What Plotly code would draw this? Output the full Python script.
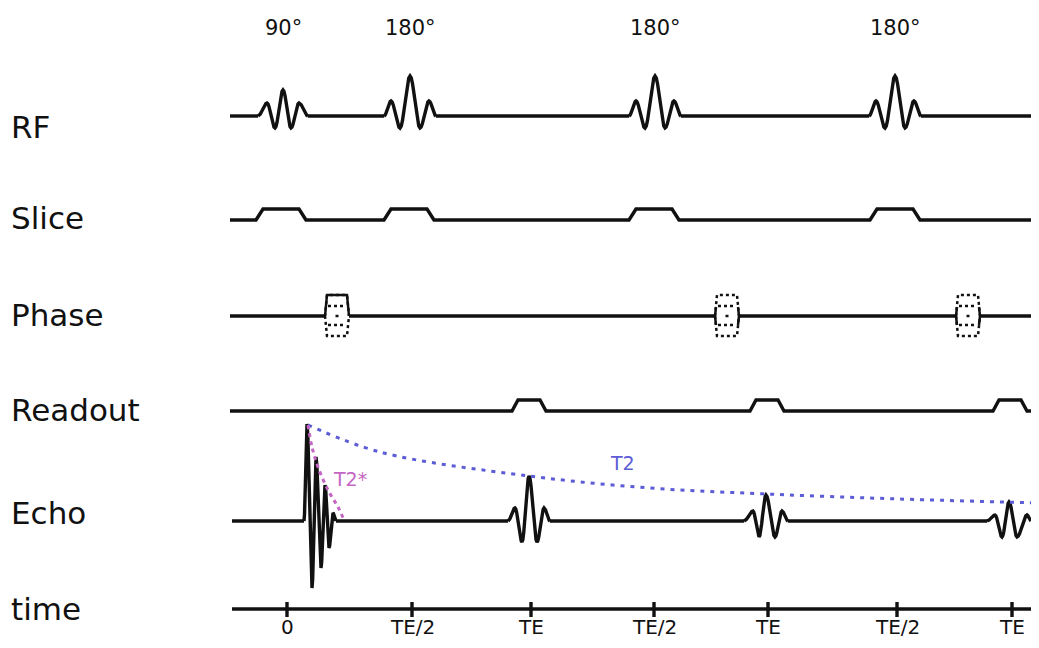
import math
import plotly.graph_objects as go

# The page body has an 8px margin; the figure is sized so the page is exactly 1039x648
PAGE_W, PAGE_H, BODY = 1039, 648, 8
W, H = PAGE_W - 2 * BODY, PAGE_H - 2 * BODY

# ---------------- data (diagram units: time on x, level on y, y grows downward) -------------
lane_names = ["RF", "Slice", "Phase", "Readout", "Echo", "time"]
lane_base = [116, 220, 316, 411, 521, 609]
lane_label_y = [127, 218, 315, 410, 513, 609]
lane_start = [230, 230, 230, 230, 232, 232]
lane_end = 1039

# RF pulses
rf_center = [283, 410, 655, 895]
rf_flip = ["90°", "180°", "180°", "180°"]
rf_half = [25, 26, 26, 26]
rf_lobe_off = [[-16, -8, 0, 8, 16], [-19, -10, 0, 10, 19], [-19, -10, 0, 10, 19], [-19, -10, 0, 10, 19]]
rf_lobe_amp = [[13, -12, 26, -12, 13], [15, -12, 40, -12, 15], [15, -12, 40, -12, 15], [15, -12, 40, -12, 15]]

# slice-select gradient
slice_center = [281, 409, 654, 895]
slice_flat_half = 18
slice_ramp = 7
slice_amp = 11

# phase-encode blips
phase_center = [337, 727, 968]
phase_half = 12
phase_top_half = 10
phase_amp = 21
phase_levels = [10, -9, -20]

# readout gradient
ro_center = [529, 767, 1010]
ro_flat_half = 11
ro_ramp = 6
ro_amp = 11

# echoes
echo_center = [529, 766, 1009]
echo_half = [21, 22, 22]
echo_lobe_off = [[-14, -7, 0, 8, 15], [-13, -7, 0, 9, 16], [-14, -7, 0, 8, 18]]
echo_lobe_amp = [[13, -21, 45, -21, 13], [10, -16, 26, -16, 10], [6, -16, 19, -16, 6]]

# FID after 90
fid_x = [304, 307, 312, 316, 321, 325, 329, 333, 336]
fid_amp = [0, 97, -67, 64, -47, 36, -27, 8, 0]

# decay envelopes
t2_x = [308, 380, 529, 650, 767, 900, 1039]
t2_y = [425, 452, 476, 488, 494, 499, 503]
t2s_x = [308, 312, 318, 328, 338, 344]
t2s_y = [425, 447, 467, 490, 507, 520]

# time axis
tick_pos = [287, 412, 531, 654, 768, 897, 1012]
tick_labels = ["0", "TE/2", "TE", "TE/2", "TE", "TE/2", "TE"]

BLACK = "#111111"
BLUE = "#5c5cd6"
MAGENTA = "#c466c4"
LW = 3.4
FONT = "DejaVu Sans"


def baseline_segments(base, start, end, gaps):
    xs, ys = [], []
    cur = start
    for a, b in sorted(gaps):
        xs += [cur, a, None]
        ys += [base, base, None]
        cur = b
    xs += [cur, end]
    ys += [base, base]
    return xs, ys


def smooth_through(keys, base, steps=8):
    """Draw a smooth wave through key extremes (half-cosine between neighbours)."""
    xs, ys = [keys[0][0]], [base - keys[0][1]]
    for (x0, a0), (x1, a1) in zip(keys[:-1], keys[1:]):
        for k in range(1, steps + 1):
            t = k / steps
            w = (1 - math.cos(math.pi * t)) / 2
            xs.append(x0 + (x1 - x0) * t)
            ys.append(base - (a0 + (a1 - a0) * w))
    return xs, ys


def lobe_pulse(center, half, offs, amps, base):
    keys = [(center - half, 0)] + [(center + o, a) for o, a in zip(offs, amps)] + [(center + half, 0)]
    return smooth_through(keys, base)


def trapezoid_train(base, start, end, centers, flat_half, ramp, amp):
    xs, ys = [start], [base]
    for c in centers:
        xs += [c - flat_half - ramp, c - flat_half, c + flat_half, c + flat_half + ramp]
        ys += [base, base - amp, base - amp, base]
    xs.append(end)
    ys.append(base)
    return xs, ys


fig = go.Figure()


def add_line(xs, ys, color=BLACK, width=LW, dash="solid", shape="linear"):
    fig.add_trace(go.Scatter(x=xs, y=ys, mode="lines", hoverinfo="skip", showlegend=False,
                             line=dict(color=color, width=width, dash=dash, shape=shape, smoothing=1)))


# RF lane
b = lane_base[0]
xs, ys = baseline_segments(b, lane_start[0], lane_end,
                           [(c - h, c + h) for c, h in zip(rf_center, rf_half)])
add_line(xs, ys)
for c, h, o, a in zip(rf_center, rf_half, rf_lobe_off, rf_lobe_amp):
    px, py = lobe_pulse(c, h, o, a, b)
    add_line(px, py)

# Slice lane
xs, ys = trapezoid_train(lane_base[1], lane_start[1], lane_end, slice_center,
                         slice_flat_half, slice_ramp, slice_amp)
add_line(xs, ys)

# Phase lane
b = lane_base[2]
xs, ys = baseline_segments(b, lane_start[2], lane_end,
                           [(c - phase_half, c + phase_half) for c in phase_center])
add_line(xs, ys)
for i, c in enumerate(phase_center):
    dx = [c - phase_half, c - phase_top_half, c + phase_top_half, c + phase_half, None,
          c - phase_half, c - phase_top_half, c + phase_top_half, c + phase_half]
    dy = [b, b - phase_amp, b - phase_amp, b, None,
          b, b - phase_levels[-1], b - phase_levels[-1], b]
    for lv in phase_levels[:-1]:
        dx += [None, c - phase_top_half + 1, c + phase_top_half - 1]
        dy += [None, b - lv, b - lv]
    dx += [None, c - 1.5, c + 1.5]
    dy += [None, b, b]
    add_line(dx, dy, dash="3px,3px", width=2.5)
    if i == 0:
        sx = [c - phase_half, c - phase_top_half, c + phase_top_half, c + phase_half]
        sy = [b, b - phase_amp, b - phase_amp, b]
    else:
        sx = [c - phase_half + 1, c - phase_half, c - phase_half + 1, None,
              c + phase_half - 1, c + phase_half, c + phase_half - 1]
        sy = [b - 9, b, b + 9, None, b - 9, b, b + 9]
    add_line(sx, sy, width=2.5)

# Readout lane
xs, ys = trapezoid_train(lane_base[3], lane_start[3], lane_end, ro_center,
                         ro_flat_half, ro_ramp, ro_amp)
add_line(xs, ys)

# Echo lane
b = lane_base[4]
gaps = [(fid_x[0], fid_x[-1])] + [(c - h, c + h) for c, h in zip(echo_center, echo_half)]
xs, ys = baseline_segments(b, lane_start[4], lane_end, gaps)
add_line(xs, ys)
fx, fy = smooth_through(list(zip(fid_x, fid_amp)), b, steps=6)
add_line(fx, fy)
for c, h, o, a in zip(echo_center, echo_half, echo_lobe_off, echo_lobe_amp):
    px, py = lobe_pulse(c, h, o, a, b)
    add_line(px, py)

# decay envelopes
add_line(t2_x, t2_y, color=BLUE, width=3, dash="4px,6px", shape="spline")
add_line(t2s_x, t2s_y, color=MAGENTA, width=3, dash="4px,4px", shape="spline")

# time axis
b = lane_base[5]
tx, ty = [lane_start[5], lane_end], [b, b]
for t in tick_pos:
    tx += [None, t, t]
    ty += [None, b - 7, b + 8]
add_line(tx, ty)

annotations = []
for name, y in zip(lane_names, lane_label_y):
    annotations.append(dict(x=9, y=y, text=name, xanchor="left", yanchor="middle",
                            showarrow=False, font=dict(family=FONT, size=31, color=BLACK)))
for c, t in zip(rf_center, rf_flip):
    annotations.append(dict(x=c, y=28, text=t, xanchor="center", yanchor="middle",
                            showarrow=False, font=dict(family=FONT, size=21, color=BLACK)))
for t, lab in zip(tick_pos, tick_labels):
    annotations.append(dict(x=t, y=627, text=lab, xanchor="center", yanchor="middle",
                            showarrow=False, borderpad=0,
                            font=dict(family=FONT, size=20, color=BLACK)))
annotations.append(dict(x=350, y=479, text="T2*", xanchor="center", yanchor="middle",
                        showarrow=False, font=dict(family=FONT, size=19, color=MAGENTA)))
annotations.append(dict(x=622, y=463, text="T2", xanchor="center", yanchor="middle",
                        showarrow=False, font=dict(family=FONT, size=19, color=BLUE)))

fig.update_layout(
    width=W, height=H, margin=dict(l=0, r=0, t=0, b=0),
    paper_bgcolor="white", plot_bgcolor="white",
    xaxis=dict(range=[BODY, BODY + W], visible=False, fixedrange=True),
    yaxis=dict(range=[BODY + H, BODY], visible=False, fixedrange=True),
    annotations=annotations, showlegend=False,
)

fig.write_html("out.html", config={"displayModeBar": False})
